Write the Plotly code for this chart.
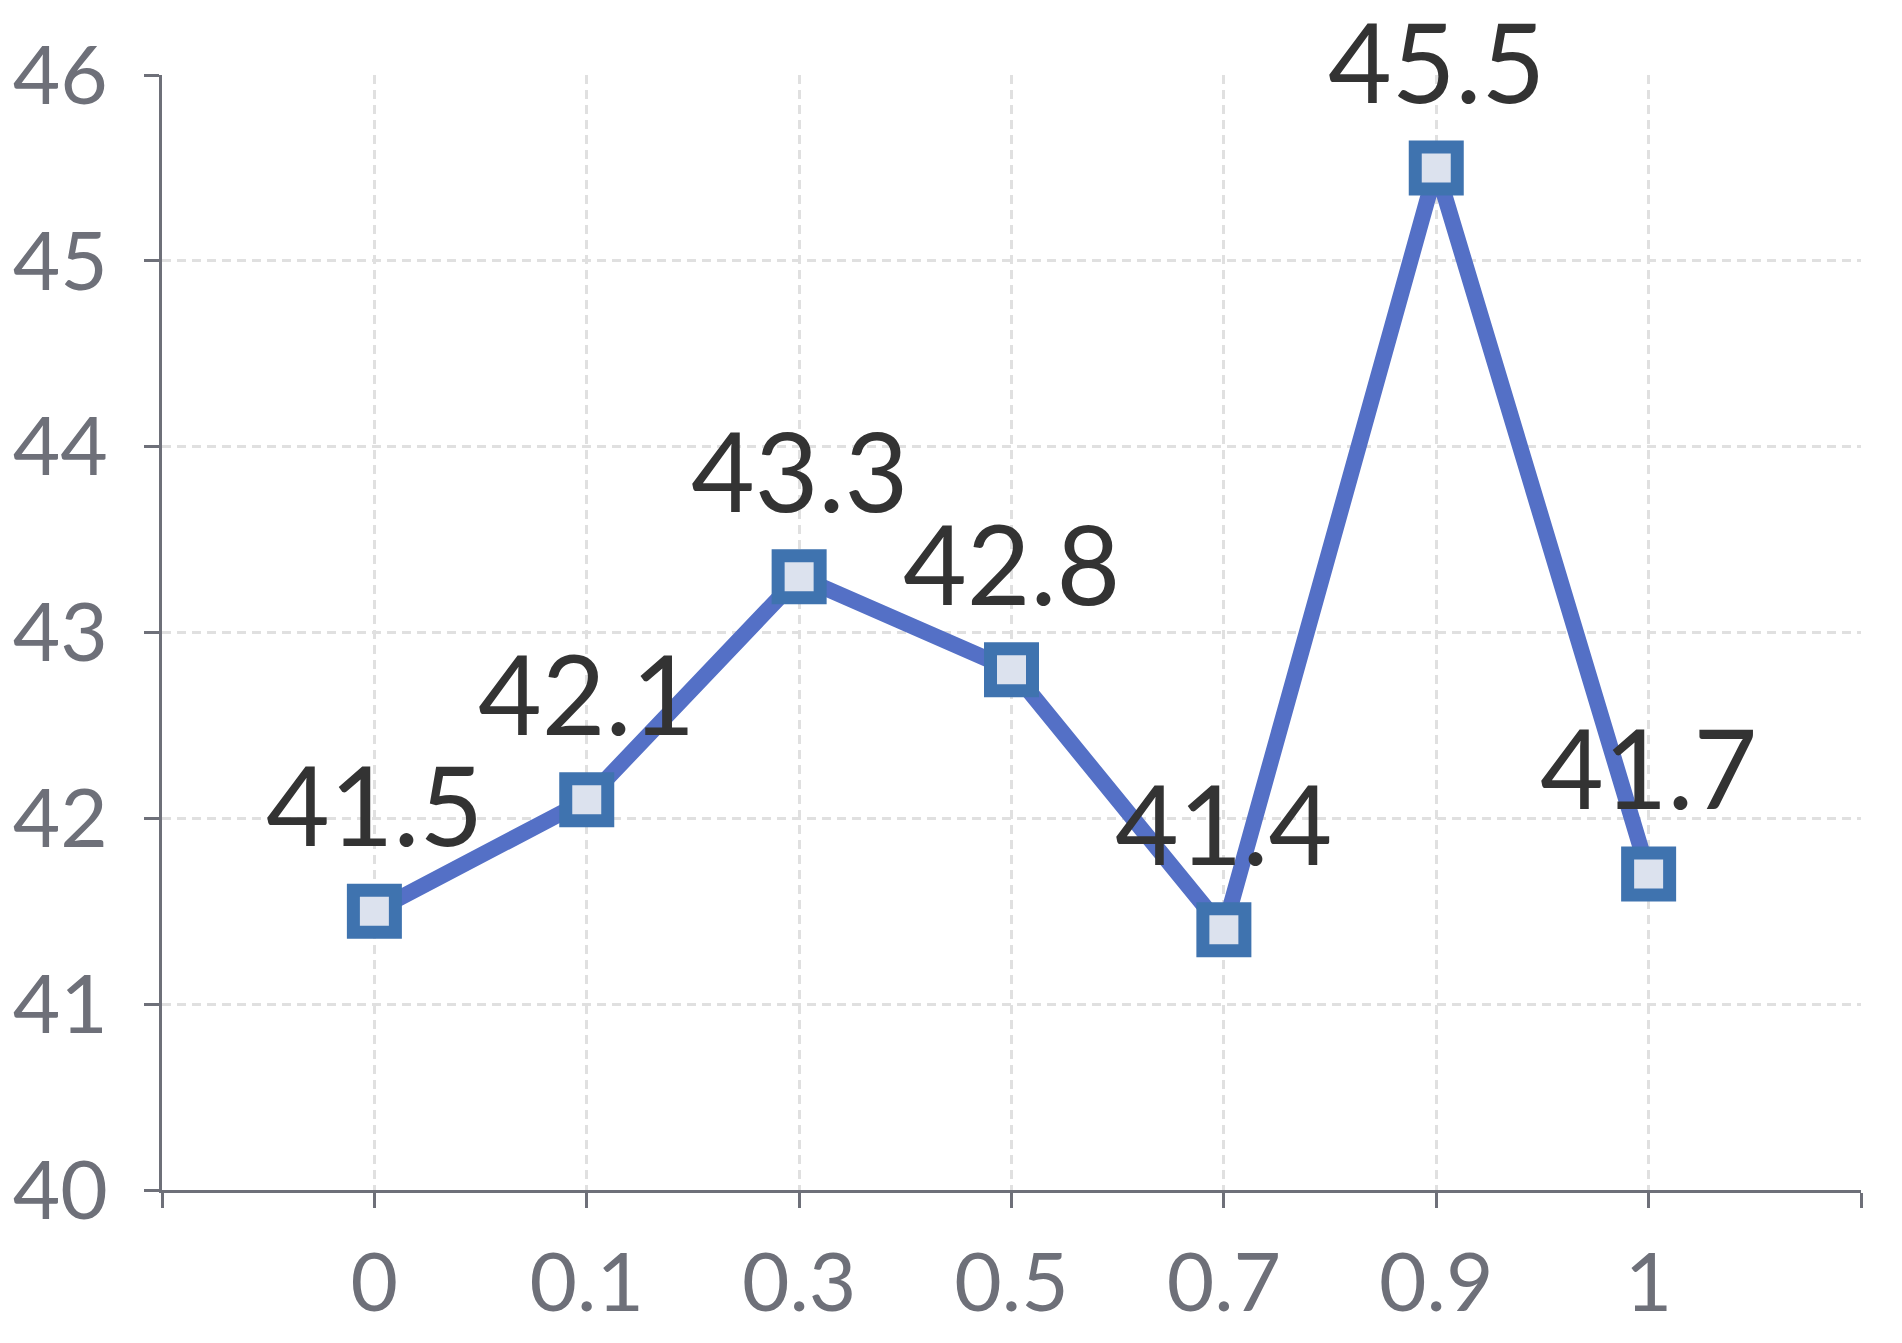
import plotly.graph_objects as go

# ratio values on the x axis, score on the y axis
categories = ["0", "0.1", "0.3", "0.5", "0.7", "0.9", "1"]
values = [41.5, 42.1, 43.3, 42.8, 41.4, 45.5, 41.7]
y_ticks = [40, 41, 42, 43, 44, 45, 46]

positions = list(range(1, len(categories) + 1))
label_font = "Lato, Noto Sans, sans-serif"

fig = go.Figure()
fig.add_trace(go.Scatter(
	x=positions,
	y=values,
	mode="lines+markers",
	line=dict(color="#5470C6", width=16),
	marker=dict(symbol="square", size=42, color="#DCE2EE",
		line=dict(color="#3F73AF", width=13)),
	cliponaxis=False,
	showlegend=False,
))

# value labels above each point
for p, v in zip(positions, values):
	fig.add_annotation(
		x=p, y=v, text=str(v), showarrow=False,
		xanchor="center", yanchor="bottom", yshift=40,
		font=dict(family=label_font, size=110, color="#333333"),
	)

fig.update_layout(
	width=1902,
	height=1343,
	margin=dict(l=154, r=49, t=67, b=161),
	paper_bgcolor="white",
	plot_bgcolor="white",
	font=dict(family=label_font, color="#6E7079"),
)

fig.update_xaxes(
	range=[0, len(categories) + 1],
	tickvals=list(range(0, len(categories) + 2)),
	ticktext=[""] + categories + [""],
	tickfont=dict(size=82, color="#6E7079"),
	showline=True, linecolor="#6E7079", linewidth=2.5,
	ticks="outside", ticklen=15, tickwidth=2.5, tickcolor="#6E7079",
	ticklabelstandoff=5,
	showgrid=True, gridcolor="#E0E0E0", gridwidth=2.5, griddash="9px,6px",
	zeroline=False, automargin=False,
)
fig.update_yaxes(
	range=[40, 46],
	tickvals=y_ticks,
	tickfont=dict(size=82, color="#6E7079"),
	showline=True, linecolor="#6E7079", linewidth=2.5,
	ticks="outside", ticklen=15, tickwidth=2.5, tickcolor="#6E7079",
	ticklabelstandoff=20,
	showgrid=True, gridcolor="#E0E0E0", gridwidth=2.5, griddash="9px,6px",
	zeroline=False, automargin=False,
)

fig.write_html("out.html")
